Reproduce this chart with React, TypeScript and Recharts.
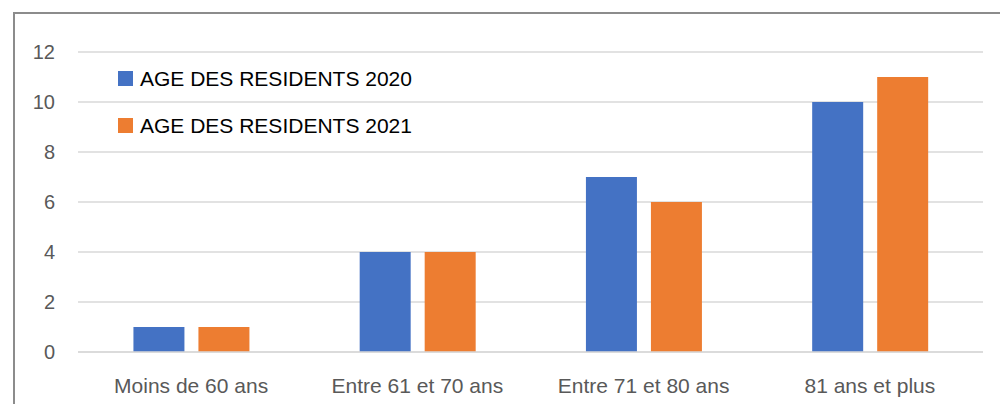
import React from "react";
import { BarChart, Bar, XAxis, YAxis, CartesianGrid } from "recharts";

const categories = ["Moins de 60 ans", "Entre 61 et 70 ans", "Entre 71 et 80 ans", "81 ans et plus"];
const residents2020 = [1, 4, 7, 10];
const residents2021 = [1, 4, 6, 11];
const yTicks = [0, 2, 4, 6, 8, 10, 12];

const series = [
  { key: "y2020", name: "AGE DES RESIDENTS 2020", color: "#4472C4" },
  { key: "y2021", name: "AGE DES RESIDENTS 2021", color: "#ED7D31" },
];

const data = categories.map((name, i) => ({
  name,
  y2020: residents2020[i],
  y2021: residents2021[i],
}));

const FONT = "'Liberation Sans', Arial, sans-serif";

export default function App() {
  return (
    <div style={{ position: "fixed", top: 0, left: 0, width: 1000, height: 404, background: "#fff", overflow: "hidden" }}>
      <div
        style={{
          position: "absolute",
          left: 13,
          top: 12,
          width: 1000,
          height: 400,
          borderLeft: "2px solid #8c8c8c",
          borderTop: "2px solid #8c8c8c",
        }}
      />
      <BarChart
        width={1000}
        height={404}
        data={data}
        margin={{ top: 52, right: 17, left: 0, bottom: 0 }}
        barCategoryGap="24.5%"
        barGap={14}
        style={{ position: "absolute", left: 0, top: 0 }}
      >
        <CartesianGrid vertical={false} stroke="#d9d9d9" strokeWidth={1.5} />
        <XAxis
          dataKey="name"
          height={52}
          axisLine={{ stroke: "#d9d9d9", strokeWidth: 1.5 }}
          tickLine={false}
          tickMargin={20}
          tick={{ fill: "#595959", fontSize: 21, fontFamily: FONT }}
        />
        <YAxis
          width={78}
          domain={[0, 12]}
          ticks={yTicks}
          axisLine={false}
          tickLine={false}
          tickMargin={17}
          tick={{ fill: "#595959", fontSize: 20, fontFamily: FONT }}
        />
        {series.map((s) => (
          <Bar key={s.key} dataKey={s.key} name={s.name} fill={s.color} isAnimationActive={false} />
        ))}
      </BarChart>
      {/* legend sits inside the plot, top-left, like the spreadsheet original */}
      <div style={{ position: "absolute", left: 118, top: 55, fontFamily: FONT }}>
        {series.map((s) => (
          <div key={s.key} style={{ display: "flex", alignItems: "center", height: 47, fontSize: 21, color: "#000" }}>
            <span style={{ width: 15, height: 15, background: s.color, marginRight: 7, display: "inline-block" }} />
            {s.name}
          </div>
        ))}
      </div>
    </div>
  );
}
